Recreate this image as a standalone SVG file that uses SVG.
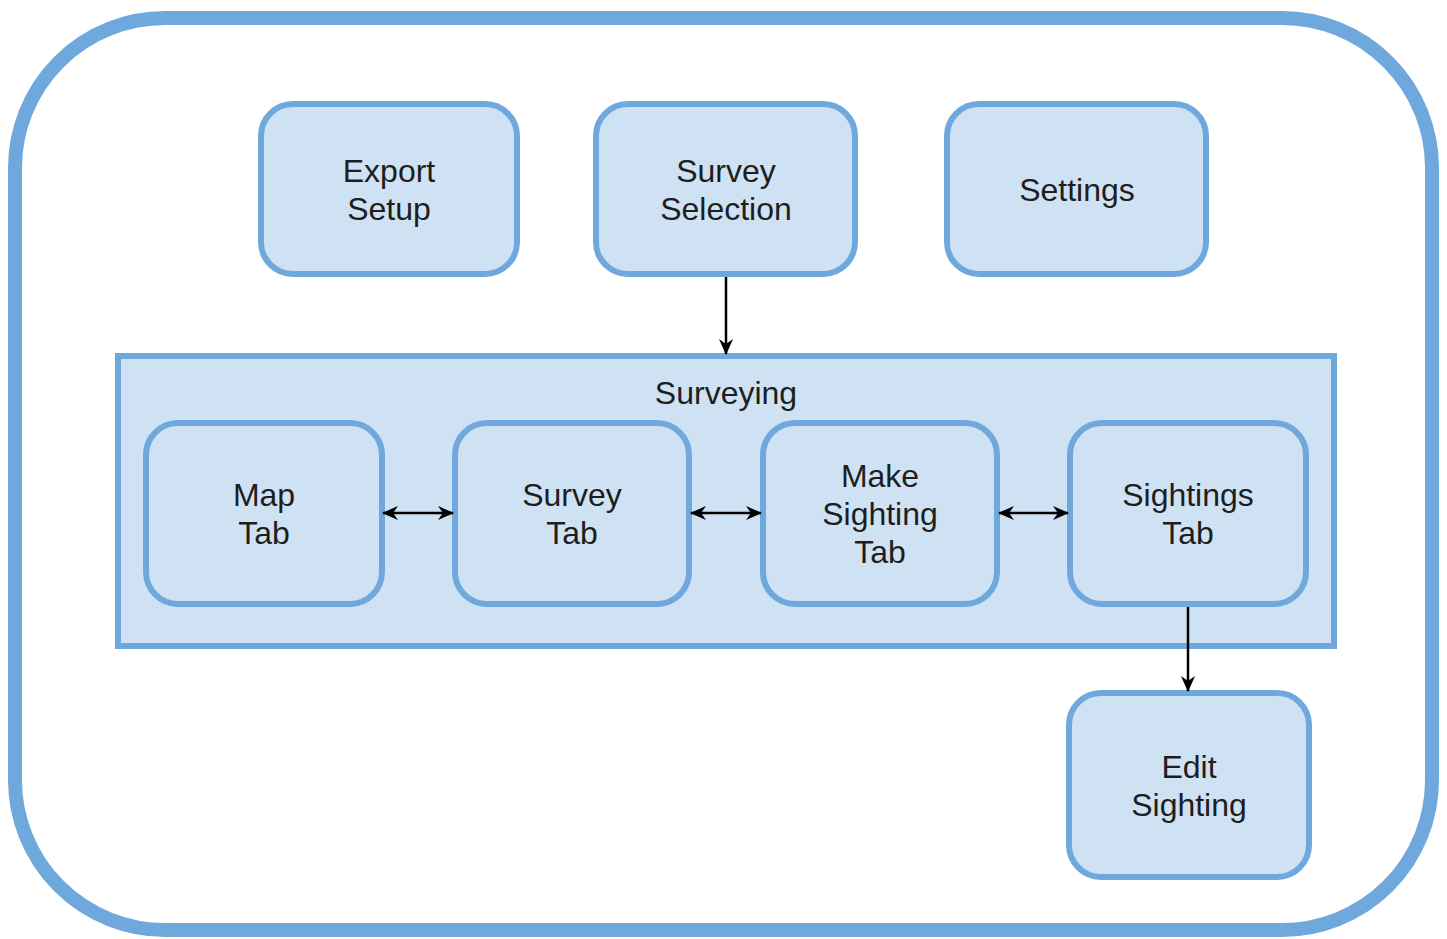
<svg xmlns="http://www.w3.org/2000/svg" width="1447" height="939" viewBox="0 0 1447 939">
<style>
.node rect{fill:#cfe2f3;stroke:#6fa8dc;stroke-width:6}
.frame{fill:#ffffff;stroke:#6fa8dc;stroke-width:14}
text{font-family:"Liberation Sans",Arial,Helvetica,sans-serif;font-size:32px;fill:#1e1e1e;text-anchor:middle}
.conn line{stroke:#000000;stroke-width:2.5;fill:none}
</style>
<defs>
<marker id="ah" viewBox="0 0 16 14" refX="15" refY="7" markerWidth="16" markerHeight="14" markerUnits="userSpaceOnUse" orient="auto-start-reverse">
<path d="M0,0 L16,7 L0,14 L5,7 Z" fill="#000000"/>
</marker>
</defs>
<rect class="frame" x="15" y="18" width="1417" height="912" rx="150" ry="150"/>
<g id="surveying" class="node">
<rect x="118" y="356" width="1216" height="290"/>
<text x="726" y="404">Surveying</text>
</g>
<g id="export-setup" class="node">
<rect x="261" y="104" width="256" height="170" rx="32" ry="32"/>
<text x="389" y="182">Export</text>
<text x="389" y="220">Setup</text>
</g>
<g id="survey-selection" class="node">
<rect x="596" y="104" width="259" height="170" rx="32" ry="32"/>
<text x="726" y="182">Survey</text>
<text x="726" y="220">Selection</text>
</g>
<g id="settings" class="node">
<rect x="947" y="104" width="259" height="170" rx="32" ry="32"/>
<text x="1077" y="201">Settings</text>
</g>
<g id="map-tab" class="node">
<rect x="146" y="423" width="236" height="181" rx="32" ry="32"/>
<text x="264" y="506">Map</text>
<text x="264" y="544">Tab</text>
</g>
<g id="survey-tab" class="node">
<rect x="455" y="423" width="234" height="181" rx="32" ry="32"/>
<text x="572" y="506">Survey</text>
<text x="572" y="544">Tab</text>
</g>
<g id="make-sighting-tab" class="node">
<rect x="763" y="423" width="234" height="181" rx="32" ry="32"/>
<text x="880" y="487">Make</text>
<text x="880" y="525">Sighting</text>
<text x="880" y="563">Tab</text>
</g>
<g id="sightings-tab" class="node">
<rect x="1070" y="423" width="236" height="181" rx="32" ry="32"/>
<text x="1188" y="506">Sightings</text>
<text x="1188" y="544">Tab</text>
</g>
<g id="edit-sighting" class="node">
<rect x="1069" y="693" width="240" height="184" rx="32" ry="32"/>
<text x="1189" y="778">Edit</text>
<text x="1189" y="816">Sighting</text>
</g>
<g id="connectors" class="conn">
<line x1="726" y1="277" x2="726" y2="354" marker-end="url(#ah)"/>
<line x1="1188" y1="607" x2="1188" y2="691" marker-end="url(#ah)"/>
<line x1="383" y1="513" x2="453" y2="513" marker-start="url(#ah)" marker-end="url(#ah)"/>
<line x1="691" y1="513" x2="761" y2="513" marker-start="url(#ah)" marker-end="url(#ah)"/>
<line x1="999" y1="513" x2="1068" y2="513" marker-start="url(#ah)" marker-end="url(#ah)"/>
</g>
</svg>
